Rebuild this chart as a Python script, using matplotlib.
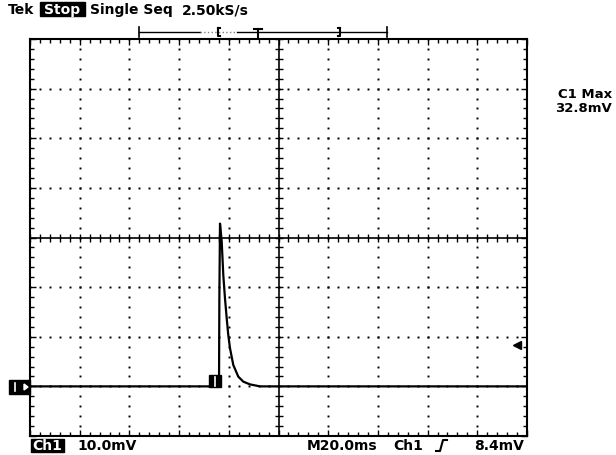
import numpy as np
import matplotlib
matplotlib.use('Agg')
import matplotlib.pyplot as plt
from matplotlib.patches import Rectangle, Polygon

# trace: time in ms (0 = screen centre), volts in mV
t_ms = [-100, -23.94, -23.8, -23.54, -22.86, -22.21, -21.53, -20.84, -20.20,
        -19.52, -18.19, -16.18, -14.16, -11.47, -7.44, 100]
v_mv = [0, 0, 17.7, 32.8, 29.2, 22.4, 17.7, 13.7, 10.3,
        7.7, 4.3, 1.96, 0.95, 0.4, 0.0, 0]

time_div = 20.0    # ms/div
volt_div = 10.0    # mV/div
trig_level = 8.4   # mV
c1_max = '32.8mV'

W, H = 616, 456
fig = plt.figure(figsize=(W / 100, H / 100), dpi=100)
fig.patch.set_facecolor('white')

# graticule frame in pixels: x 30..527, y 40..437
x0, x1, y0, y1 = 30, 527, 40, 437
ax = fig.add_axes([x0 / W, (H - y1) / H, (x1 - x0) / W, (y1 - y0) / H])
ax.set_xlim(-5 * time_div, 5 * time_div)
ax.set_ylim(-1 * volt_div, 7 * volt_div)
ax.set_xticks(np.arange(-100, 101, 20))
ax.set_yticks(np.arange(-10, 71, 10))
ax.set_xticks(np.arange(-100, 101, 4), minor=True)
ax.set_yticks(np.arange(-10, 71, 2), minor=True)
ax.tick_params(which='both', direction='in', top=True, right=True,
               labelbottom=False, labelleft=False, width=1, color='black')
ax.tick_params(which='major', length=4)
ax.tick_params(which='minor', length=3)
for s in ax.spines.values():
    s.set_linewidth(1.5)

# dotted grid
xc, yc = 0, 30
dot_t = np.arange(-100, 101, 4)
dot_v = np.arange(-10, 71, 2)
for v in np.arange(0, 61, 10):
    if v == yc:
        continue
    ax.plot(dot_t, np.full_like(dot_t, v, dtype=float), 's', ms=1.4, mew=0, color='black')
for t in np.arange(-80, 81, 20):
    if t == xc:
        continue
    ax.plot(np.full_like(dot_v, t, dtype=float), dot_v, 's', ms=1.4, mew=0, color='black')

# centre cross with ticks
ax.axhline(yc, color='black', lw=1.2)
ax.axvline(xc, color='black', lw=1.2)
ax.plot(dot_t, np.full_like(dot_t, yc, dtype=float), '|', ms=6, mew=1, color='black')
ax.plot(np.full_like(dot_v, xc, dtype=float), dot_v, '_', ms=6, mew=1, color='black')

# trace
ax.plot(t_ms, v_mv, color='black', lw=1.6, solid_joinstyle='round', zorder=5)

# trigger point box
ax.add_patch(Rectangle((-27.97, -0.2), 4.83, 2.4, color='black', zorder=6))
ax.plot([-25.7, -25.7], [0.1, 1.9], color='white', lw=1.2, zorder=7)

# trigger level arrow
ax.plot([96], [trig_level], marker='<', ms=6, color='black', clip_on=False, zorder=6)

# overlay in screen pixels for the readouts
ov = fig.add_axes([0, 0, 1, 1], facecolor='none')
ov.set_xlim(0, W)
ov.set_ylim(H, 0)
ov.axis('off')

fkw = dict(fontsize=10, fontweight='bold', family='DejaVu Sans', va='center')
ov.text(8, 10, 'Tek', **fkw)
ov.add_patch(Rectangle((40, 3), 45, 14, color='black'))
ov.text(62.5, 10, 'Stop', color='white', ha='center', **fkw)
ov.text(90, 10, 'Single Seq', **fkw)
ov.text(182, 10, '2.50kS/s', **fkw)

# record bar
ov.plot([139, 200], [33, 33], color='black', lw=1)
ov.plot([200, 237], [33, 33], color='gray', lw=1, ls=':')
ov.plot([237, 387], [33, 33], color='black', lw=1)
for xx in (139, 387):
    ov.plot([xx, xx], [28, 38], color='black', lw=1.2)
ov.plot([218, 218, 220], [29, 37, 37], color='black', lw=1.5)
ov.plot([218, 220], [29, 29], color='black', lw=1.5)
ov.plot([340, 340, 338], [29, 37, 37], color='black', lw=1.5)
ov.plot([340, 338], [29, 29], color='black', lw=1.5)
ov.plot([254, 262], [30, 30], color='black', lw=1.5)
ov.plot([258, 258], [30, 38], color='black', lw=1.5)

# ground marker
ov.add_patch(Polygon([[9, 381], [30, 381], [30, 395], [9, 395]], color='black'))
ov.plot([14.5, 14.5], [384, 392], color='white', lw=1.2)
ov.add_patch(Polygon([[24, 385], [28, 388], [24, 391]], color='white'))

# right readout
rkw = dict(fkw, fontsize=9.5)
ov.text(612, 95, 'C1 Max', ha='right', **rkw)
ov.text(612, 108.5, c1_max, ha='right', **rkw)

# bottom readout
ov.add_patch(Rectangle((31, 440), 33, 13, color='black'))
ov.text(47.5, 446.5, 'Ch1', color='white', ha='center', **fkw)
ov.text(77, 446.5, '10.0mV', **fkw)
ov.text(307, 446.5, 'M20.0ms', **fkw)
ov.text(393, 446.5, 'Ch1', **fkw)
ov.plot([436, 440, 443, 447], [452, 452, 441, 441], color='black', lw=1.5)
ov.text(524, 446.5, '8.4mV', ha='right', **fkw)

fig.savefig('out.png', dpi=100, facecolor='white')
